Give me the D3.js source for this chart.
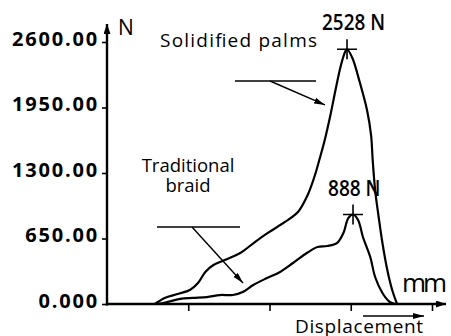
<!DOCTYPE html>
<html>
<head>
<meta charset="utf-8">
<script src="https://cdn.jsdelivr.net/npm/d3@7"></script>
<style>
  html, body { margin: 0; padding: 0; background: #fff; }
  svg { display: block; }
  text { font-family: "Open Sans", "Noto Sans", sans-serif; fill: #000; }
</style>
</head>
<body>
<svg id="chart" width="451" height="336"></svg>
<script>
// Load–displacement curves of the two braid types (displacement in mm, force in N)
const palmsX = [0.59, 0.71, 0.87, 1.02, 1.12, 1.21, 1.31, 1.45, 1.64, 1.82, 1.98, 2.19, 2.35, 2.47, 2.56, 2.62, 2.68, 2.75, 2.82, 2.88, 2.93, 2.954, 3.02, 3.11, 3.20, 3.25, 3.27, 3.30, 3.34, 3.39, 3.45, 3.51, 3.57];
const palmsY = [0, 60, 99, 139, 208, 318, 387, 437, 506, 615, 705, 814, 913, 1082, 1280, 1449, 1628, 1876, 2154, 2372, 2501, 2528, 2441, 2203, 1925, 1677, 1429, 1131, 883, 605, 337, 139, 0];

const braidX = [0.62, 0.74, 0.90, 1.06, 1.23, 1.39, 1.55, 1.67, 1.80, 1.97, 2.13, 2.29, 2.46, 2.59, 2.71, 2.83, 2.91, 2.97, 3.028, 3.09, 3.15, 3.24, 3.30, 3.39, 3.48, 3.55];
const braidY = [0, 20, 50, 60, 69, 89, 89, 119, 189, 258, 318, 407, 506, 566, 576, 605, 705, 853, 888, 834, 665, 466, 268, 109, 20, 0];

const yTickValues = [0, 650, 1300, 1950, 2600];
const yTickLabels = ["0.000", "650.00", "1300.00", "1950.00", "2600.00"];
const xTickValues = [1, 2, 3, 4];

const seriesNames = ["Solidified palms", "Traditional braid"];
const peakLabels = ["2528 N", "888 N"];
const yUnit = "N";
const xUnit = "mm";
const xTitle = "Displacement";

const svg = d3.select("#chart");

const x = d3.scaleLinear().domain([0, 4.2]).range([107, 448.25]);
const y = d3.scaleLinear().domain([0, 2600]).range([304, 42]);

// arrowhead markers
const defs = svg.append("defs");
function addMarker(id, len, wid) {
  defs.append("marker")
    .attr("id", id)
    .attr("markerUnits", "userSpaceOnUse")
    .attr("viewBox", `0 0 ${len} ${wid}`)
    .attr("refX", len).attr("refY", wid / 2)
    .attr("markerWidth", len).attr("markerHeight", wid)
    .attr("orient", "auto")
    .append("path")
    .attr("d", `M0,0L${len},${wid / 2}L0,${wid}Z`)
    .attr("fill", "#000");
}
addMarker("axisArrow", 10, 7);
addMarker("leadArrow", 11, 6);

// y axis
const yAxis = svg.append("g")
  .attr("transform", `translate(${x(0)},0)`)
  .call(d3.axisLeft(y).tickValues(yTickValues).tickSize(5).tickPadding(3)
    .tickFormat((d, i) => yTickLabels[i]));
yAxis.select(".domain").remove();
yAxis.selectAll(".tick line").attr("stroke", "#000").attr("stroke-width", 1.6);
yAxis.selectAll(".tick text")
  .attr("dy", "0.17em")
  .style("font-size", "20px")
  .style("font-weight", "700")
  .style("letter-spacing", "1.8px")
  .attr("fill", "#000");

svg.append("line")
  .attr("x1", x(0)).attr("x2", x(0))
  .attr("y1", y(0) + 1.5).attr("y2", 24)
  .attr("stroke", "#000").attr("stroke-width", 2.4)
  .attr("marker-end", "url(#axisArrow)");

// x axis
const xAxis = svg.append("g")
  .attr("transform", `translate(0,${y(0)})`)
  .call(d3.axisBottom(x).tickValues(xTickValues).tickSize(7).tickFormat(""));
xAxis.select(".domain").remove();
xAxis.selectAll(".tick line").attr("stroke", "#000").attr("stroke-width", 1.6);

svg.append("line")
  .attr("x1", x(0) - 1.2).attr("x2", 446)
  .attr("y1", y(0)).attr("y2", y(0))
  .attr("stroke", "#000").attr("stroke-width", 2.6)
  .attr("marker-end", "url(#axisArrow)");

// curves
const line = d3.line()
  .x(d => x(d[0])).y(d => y(d[1]))
  .curve(d3.curveCatmullRom.alpha(0.5));

const series = [
  { name: seriesNames[0], xs: palmsX, ys: palmsY, peak: peakLabels[0] },
  { name: seriesNames[1], xs: braidX, ys: braidY, peak: peakLabels[1] }
];

series.forEach(s => {
  const pts = s.xs.map((v, i) => [v, s.ys[i]]);
  svg.append("path")
    .datum(pts)
    .attr("d", line)
    .attr("fill", "none")
    .attr("stroke", "#000")
    .attr("stroke-width", 2.2)
    .attr("stroke-linejoin", "round");

  // peak cross and value label
  const iMax = d3.maxIndex(s.ys);
  const px = x(s.xs[iMax]), py = y(s.ys[iMax]);
  svg.append("path")
    .attr("d", `M${px - 10},${py}H${px + 10}M${px},${py - 10}V${py + 10}`)
    .attr("stroke", "#000").attr("stroke-width", 1.6).attr("fill", "none");
  svg.append("text")
    .attr("x", px - 25).attr("y", py - 19)
    .attr("textLength", s.peak.length * 10.5)
    .attr("lengthAdjust", "spacingAndGlyphs")
    .style("font-size", "21px")
    .style("font-weight", "600")
    .text(s.peak);
});

// series annotations with leader arrows
function leader(x1, x2, yh, ax1, ax2, ay2) {
  svg.append("line")
    .attr("x1", x(x1)).attr("x2", x(x2)).attr("y1", y(yh)).attr("y2", y(yh))
    .attr("stroke", "#000").attr("stroke-width", 1.6);
  svg.append("line")
    .attr("x1", x(ax1)).attr("y1", y(yh)).attr("x2", x(ax2)).attr("y2", y(ay2))
    .attr("stroke", "#000").attr("stroke-width", 1.4)
    .attr("marker-end", "url(#leadArrow)");
}
leader(1.575, 2.572, 2213, 2.006, 2.683, 1975);
leader(0.615, 1.637, 764, 1.046, 1.674, 208);

svg.append("text")
  .attr("x", 160).attr("y", 47)
  .attr("textLength", 157)
  .style("font-size", "19px")
  .text(seriesNames[0]);

seriesNames[1].split(" ").forEach((w, i) => {
  svg.append("text")
    .attr("text-anchor", "middle")
    .attr("x", 188).attr("y", 172 + i * 20)
    .style("font-size", "18.5px")
    .text(w);
});

// axis units and title
svg.append("text")
  .attr("x", 118).attr("y", 35)
  .style("font-size", "21px")
  .text(yUnit);

svg.append("text")
  .attr("x", 402).attr("y", 292)
  .attr("textLength", 45)
  .style("font-size", "26px")
  .text(xUnit);

svg.append("text")
  .attr("x", 295).attr("y", 333)
  .attr("textLength", 128)
  .style("font-size", "19px")
  .text(xTitle);

svg.append("line")
  .attr("x1", 363).attr("x2", 424).attr("y1", 316).attr("y2", 316)
  .attr("stroke", "#000").attr("stroke-width", 1.6)
  .attr("marker-end", "url(#leadArrow)");
</script>
</body>
</html>
